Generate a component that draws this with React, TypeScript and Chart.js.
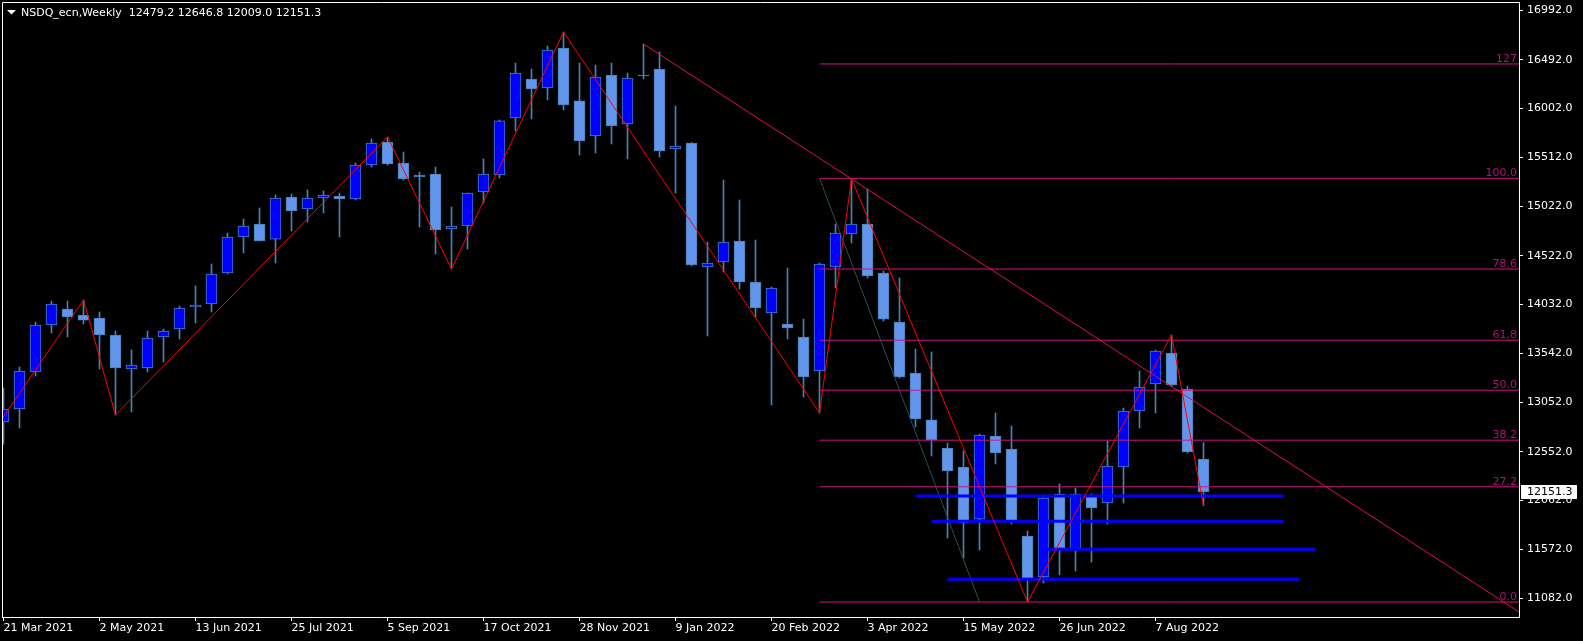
import React, { useEffect, useRef } from "react";
import { Chart, registerables } from "chart.js";

Chart.register(...registerables);

const symbolTitle = "NSDQ_ecn,Weekly";

// Weekly candles, week 0 = 21 Mar 2021
const opens = [12851, 12982, 13354, 13826, 13987, 13927, 13897, 13726, 13384, 13394,
  13706, 13786, 14007, 14037, 14349, 14711, 14841, 14690, 15113, 14992,
  15103, 15123, 15093, 15434, 15665, 15454, 15334, 15344, 14791, 14821,
  15163, 15334, 15907, 16299, 16208, 16610, 16078, 15726, 16339, 15846,
  16339, 16399, 15595, 15655, 14409, 14459, 14670, 14258, 13947, 13836,
  13706, 13364, 14409, 14741, 14841, 14349, 13856, 13344, 12872, 12590,
  12399, 11876, 12711, 12580, 11706, 11294, 12128, 11575, 12118, 12037,
  12399, 12962, 13233, 13545, 13183, 12479.2];
const highs = [13193, 13404, 13856, 14067, 14067, 14078, 13957, 13766, 13575, 13766,
  13786, 14017, 14218, 14439, 14751, 14892, 15002, 15133, 15143, 15183,
  15173, 15153, 15454, 15696, 15716, 15565, 15364, 15414, 15012, 15153,
  15495, 15887, 16459, 16399, 16630, 16771, 16459, 16439, 16459, 16359,
  16650, 16570, 16027, 15660, 14660, 15283, 15083, 14680, 14208, 14399,
  13886, 14449, 14841, 15294, 15193, 14369, 14299, 13585, 13555, 12640,
  12560, 12731, 12942, 12811, 11756, 12118, 12228, 12188, 12128, 12660,
  12992, 13364, 13575, 13726, 13213, 12646.8];
const lows = [12630, 12791, 13314, 13746, 13706, 13836, 13384, 12922, 12952, 13354,
  13454, 13686, 13846, 13957, 14339, 14550, 14670, 14449, 14771, 14861,
  14952, 14711, 15083, 15414, 15434, 15283, 14811, 14540, 14389, 14590,
  15052, 15304, 15776, 15897, 16088, 15987, 15535, 15555, 15645, 15495,
  16299, 15515, 15153, 14419, 13716, 14359, 14188, 13907, 13022, 13686,
  13103, 12942, 14198, 14650, 14299, 13866, 13294, 12801, 12510, 11685,
  11485, 11565, 12429, 11826, 11042, 11233, 11314, 11354, 11444, 11826,
  12037, 12791, 12942, 13203, 12540, 12009.0];
const closes = [12982, 13364, 13826, 14037, 13907, 13876, 13726, 13394, 13424, 13696,
  13766, 13997, 14027, 14339, 14711, 14821, 14670, 15103, 14972, 15103,
  15133, 15093, 15434, 15655, 15444, 15294, 15314, 14781, 14821, 15153,
  15344, 15877, 16359, 16198, 16590, 16037, 15675, 16319, 15826, 16309,
  16329, 15575, 15625, 14429, 14449, 14660, 14258, 13997, 14198, 13796,
  13304, 14439, 14751, 14841, 14319, 13886, 13304, 12882, 12671, 12359,
  11836, 12721, 12540, 11856, 11284, 12088, 11585, 12128, 11987, 12409,
  12962, 13203, 13565, 13223, 12550, 12151.3];

const dateTickWeeks = [0, 6, 12, 18, 24, 30, 36, 42, 48, 54, 60, 66, 72];
const dateTickLabels = ["21 Mar 2021", "2 May 2021", "13 Jun 2021", "25 Jul 2021", "5 Sep 2021",
  "17 Oct 2021", "28 Nov 2021", "9 Jan 2022", "20 Feb 2022", "3 Apr 2022", "15 May 2022",
  "26 Jun 2022", "7 Aug 2022"];
const priceTicks = [16992, 16492, 16002, 15512, 15022, 14522, 14032, 13542, 13052, 12552, 12062, 11572, 11082];

const zigzagWeeks = [-1, 5, 7, 24, 28, 35, 51, 53, 64, 73, 75];
const zigzagPrices = [12670, 14078, 12922, 15716, 14389, 16771, 12942, 15294, 11042, 13726, 12009];

const trendWeeks = [40, 95];
const trendPrices = [16650, 10913];

const fibAnchorWeeks = [51, 61];
const fibAnchorPrices = [15300, 11042];
const fibLevels = [0, 27.2, 38.2, 50, 61.8, 78.6, 100, 127];
const fibLabels = ["0.0", "27.2", "38.2", "50.0", "61,8", "78.6", "100.0", "127"];
const fibEndWeek = 95;

const supportPrices = [12108, 11853, 11572, 11271];
const supportStart = [57, 58, 65, 59];
const supportEnd = [80, 80, 82, 81];

const BULL = "#0000FF";
const BEAR = "#6495ED";
const WICK = "#4682B4";
const FIB_LINE = "#D0147E";
const FIB_TEXT = "#B0127A";
const ZIG = "#FF0000";
const TREND = "#E0123F";
const ANCHOR = "#2F4F4F";
const FONT = "'DejaVu Sans', sans-serif";

const fibPrice = (lvl: number) =>
  fibAnchorPrices[1] + (fibAnchorPrices[0] - fibAnchorPrices[1]) * lvl / 100;

export default function App() {
  const ref = useRef<HTMLCanvasElement>(null);

  useEffect(() => {
    document.body.style.margin = "0";
    document.body.style.background = "#000";
    const canvas = ref.current;
    if (!canvas) return;

    const n = opens.length;
    const idx = opens.map((_, i) => i);
    const wickData = idx.map((i) => ({ x: i, y: [lows[i], highs[i]] }));
    const bodyData = idx.map((i) => ({ x: i, y: [opens[i], closes[i]] }));
    const bodyColors = idx.map((i) => (closes[i] > opens[i] ? BULL : BEAR));

    const lineDs = (data: { x: number; y: number }[], color: string, width: number, order: number) => ({
      type: "line" as const,
      data,
      borderColor: color,
      backgroundColor: color,
      borderWidth: width,
      pointRadius: 0,
      tension: 0,
      fill: false,
      order,
    });

    const datasets: any[] = [
      {
        type: "bar",
        data: wickData,
        backgroundColor: WICK,
        borderWidth: 0,
        barThickness: 1,
        grouped: false,
        order: 20,
      },
      {
        type: "bar",
        data: bodyData,
        backgroundColor: bodyColors,
        borderColor: WICK,
        borderWidth: 1,
        borderSkipped: false,
        barThickness: 11,
        grouped: false,
        order: 19,
      },
    ];

    fibLevels.forEach((lvl) => {
      const p = fibPrice(lvl);
      datasets.push(lineDs([{ x: fibAnchorWeeks[0], y: p }, { x: fibEndWeek, y: p }], FIB_LINE, 1, 15));
    });
    datasets.push(
      lineDs(fibAnchorWeeks.map((w, i) => ({ x: w, y: fibAnchorPrices[i] })), ANCHOR, 1, 14)
    );
    supportPrices.forEach((p, i) => {
      datasets.push(lineDs([{ x: supportStart[i], y: p }, { x: supportEnd[i], y: p }], BULL, 3, 12));
    });
    datasets.push(lineDs(trendWeeks.map((w, i) => ({ x: w, y: trendPrices[i] })), TREND, 1, 11));
    datasets.push(lineDs(zigzagWeeks.map((w, i) => ({ x: w, y: zigzagPrices[i] })), ZIG, 1, 10));

    const overlay = {
      id: "overlay",
      afterDraw(chart: any) {
        const { ctx, chartArea } = chart;
        const y = chart.scales.y;
        ctx.save();
        // frame top/left
        ctx.strokeStyle = "#FFFFFF";
        ctx.lineWidth = 1;
        ctx.beginPath();
        ctx.moveTo(chartArea.left + 0.5, chartArea.bottom);
        ctx.lineTo(chartArea.left + 0.5, chartArea.top + 0.5);
        ctx.lineTo(chartArea.right, chartArea.top + 0.5);
        ctx.stroke();

        // fib labels
        ctx.font = `11px ${FONT}`;
        ctx.fillStyle = FIB_TEXT;
        ctx.textAlign = "right";
        ctx.textBaseline = "alphabetic";
        fibLevels.forEach((lvl, i) => {
          const py = y.getPixelForValue(fibPrice(lvl));
          ctx.fillText(fibLabels[i], chartArea.right - 2, py - 2);
        });

        // header
        ctx.fillStyle = "#FFFFFF";
        ctx.beginPath();
        ctx.moveTo(7, 10);
        ctx.lineTo(16, 10);
        ctx.lineTo(11.5, 14.5);
        ctx.closePath();
        ctx.fill();
        const last = n - 1;
        const header = `${symbolTitle}  ${opens[last].toFixed(1)} ${highs[last].toFixed(1)} ${lows[last].toFixed(1)} ${closes[last].toFixed(1)}`;
        ctx.textAlign = "left";
        ctx.textBaseline = "middle";
        ctx.fillText(header, 21, 13);

        // current price box
        const cy = y.getPixelForValue(closes[last]);
        ctx.fillStyle = "#FFFFFF";
        ctx.fillRect(chartArea.right + 2, Math.round(cy) - 7, 56, 14);
        ctx.fillStyle = "#000000";
        ctx.textAlign = "left";
        ctx.textBaseline = "middle";
        ctx.fillText(closes[last].toFixed(1), chartArea.right + 8, Math.round(cy) + 0.5);
        ctx.restore();
      },
    };

    Chart.defaults.font.family = FONT;
    Chart.defaults.font.size = 11;

    const chart = new Chart(canvas, {
      type: "bar",
      data: { datasets },
      options: {
        responsive: false,
        devicePixelRatio: 1,
        animation: false,
        events: [],
        layout: { padding: { left: 2, top: 2, right: 0, bottom: 0 } },
        plugins: { legend: { display: false }, tooltip: { enabled: false } },
        scales: {
          x: {
            type: "linear",
            min: -0.09375,
            max: 94.71875,
            offset: false,
            afterBuildTicks: (s: any) => {
              s.ticks = dateTickWeeks.map((v) => ({ value: v }));
            },
            afterFit: (s: any) => {
              s.height = 24;
              s.paddingLeft = 0;
              s.paddingRight = 0;
              s.paddingTop = 0;
              s.paddingBottom = 0;
            },
            ticks: {
              autoSkip: false,
              maxRotation: 0,
              minRotation: 0,
              align: "start",
              color: "#FFFFFF",
              padding: 1,
              font: { size: 11, family: FONT },
              callback: (_v: any, i: number) => dateTickLabels[i],
            },
            grid: { drawOnChartArea: false, drawTicks: true, tickLength: 4, color: "#FFFFFF", offset: false },
            border: { display: true, color: "#FFFFFF" },
          },
          y: {
            type: "linear",
            position: "right",
            min: 10891.65,
            max: 17072.4,
            beginAtZero: false,
            afterBuildTicks: (s: any) => {
              s.ticks = priceTicks.map((v) => ({ value: v }));
            },
            afterFit: (s: any) => {
              s.width = 64;
              s.paddingTop = 0;
              s.paddingBottom = 0;
              s.paddingLeft = 0;
              s.paddingRight = 0;
            },
            ticks: {
              color: "#FFFFFF",
              padding: 4,
              font: { size: 11, family: FONT },
              callback: (v: any) => Number(v).toFixed(1),
            },
            grid: { drawOnChartArea: false, drawTicks: true, tickLength: 4, color: "#FFFFFF" },
            border: { display: true, color: "#FFFFFF" },
          },
        },
      } as any,
      plugins: [overlay],
    });

    return () => chart.destroy();
  }, []);

  return (
    <div style={{ position: "fixed", left: 0, top: 0, width: 1583, height: 641, background: "#000" }}>
      <canvas ref={ref} width={1583} height={641} style={{ display: "block", width: 1583, height: 641 }} />
    </div>
  );
}
